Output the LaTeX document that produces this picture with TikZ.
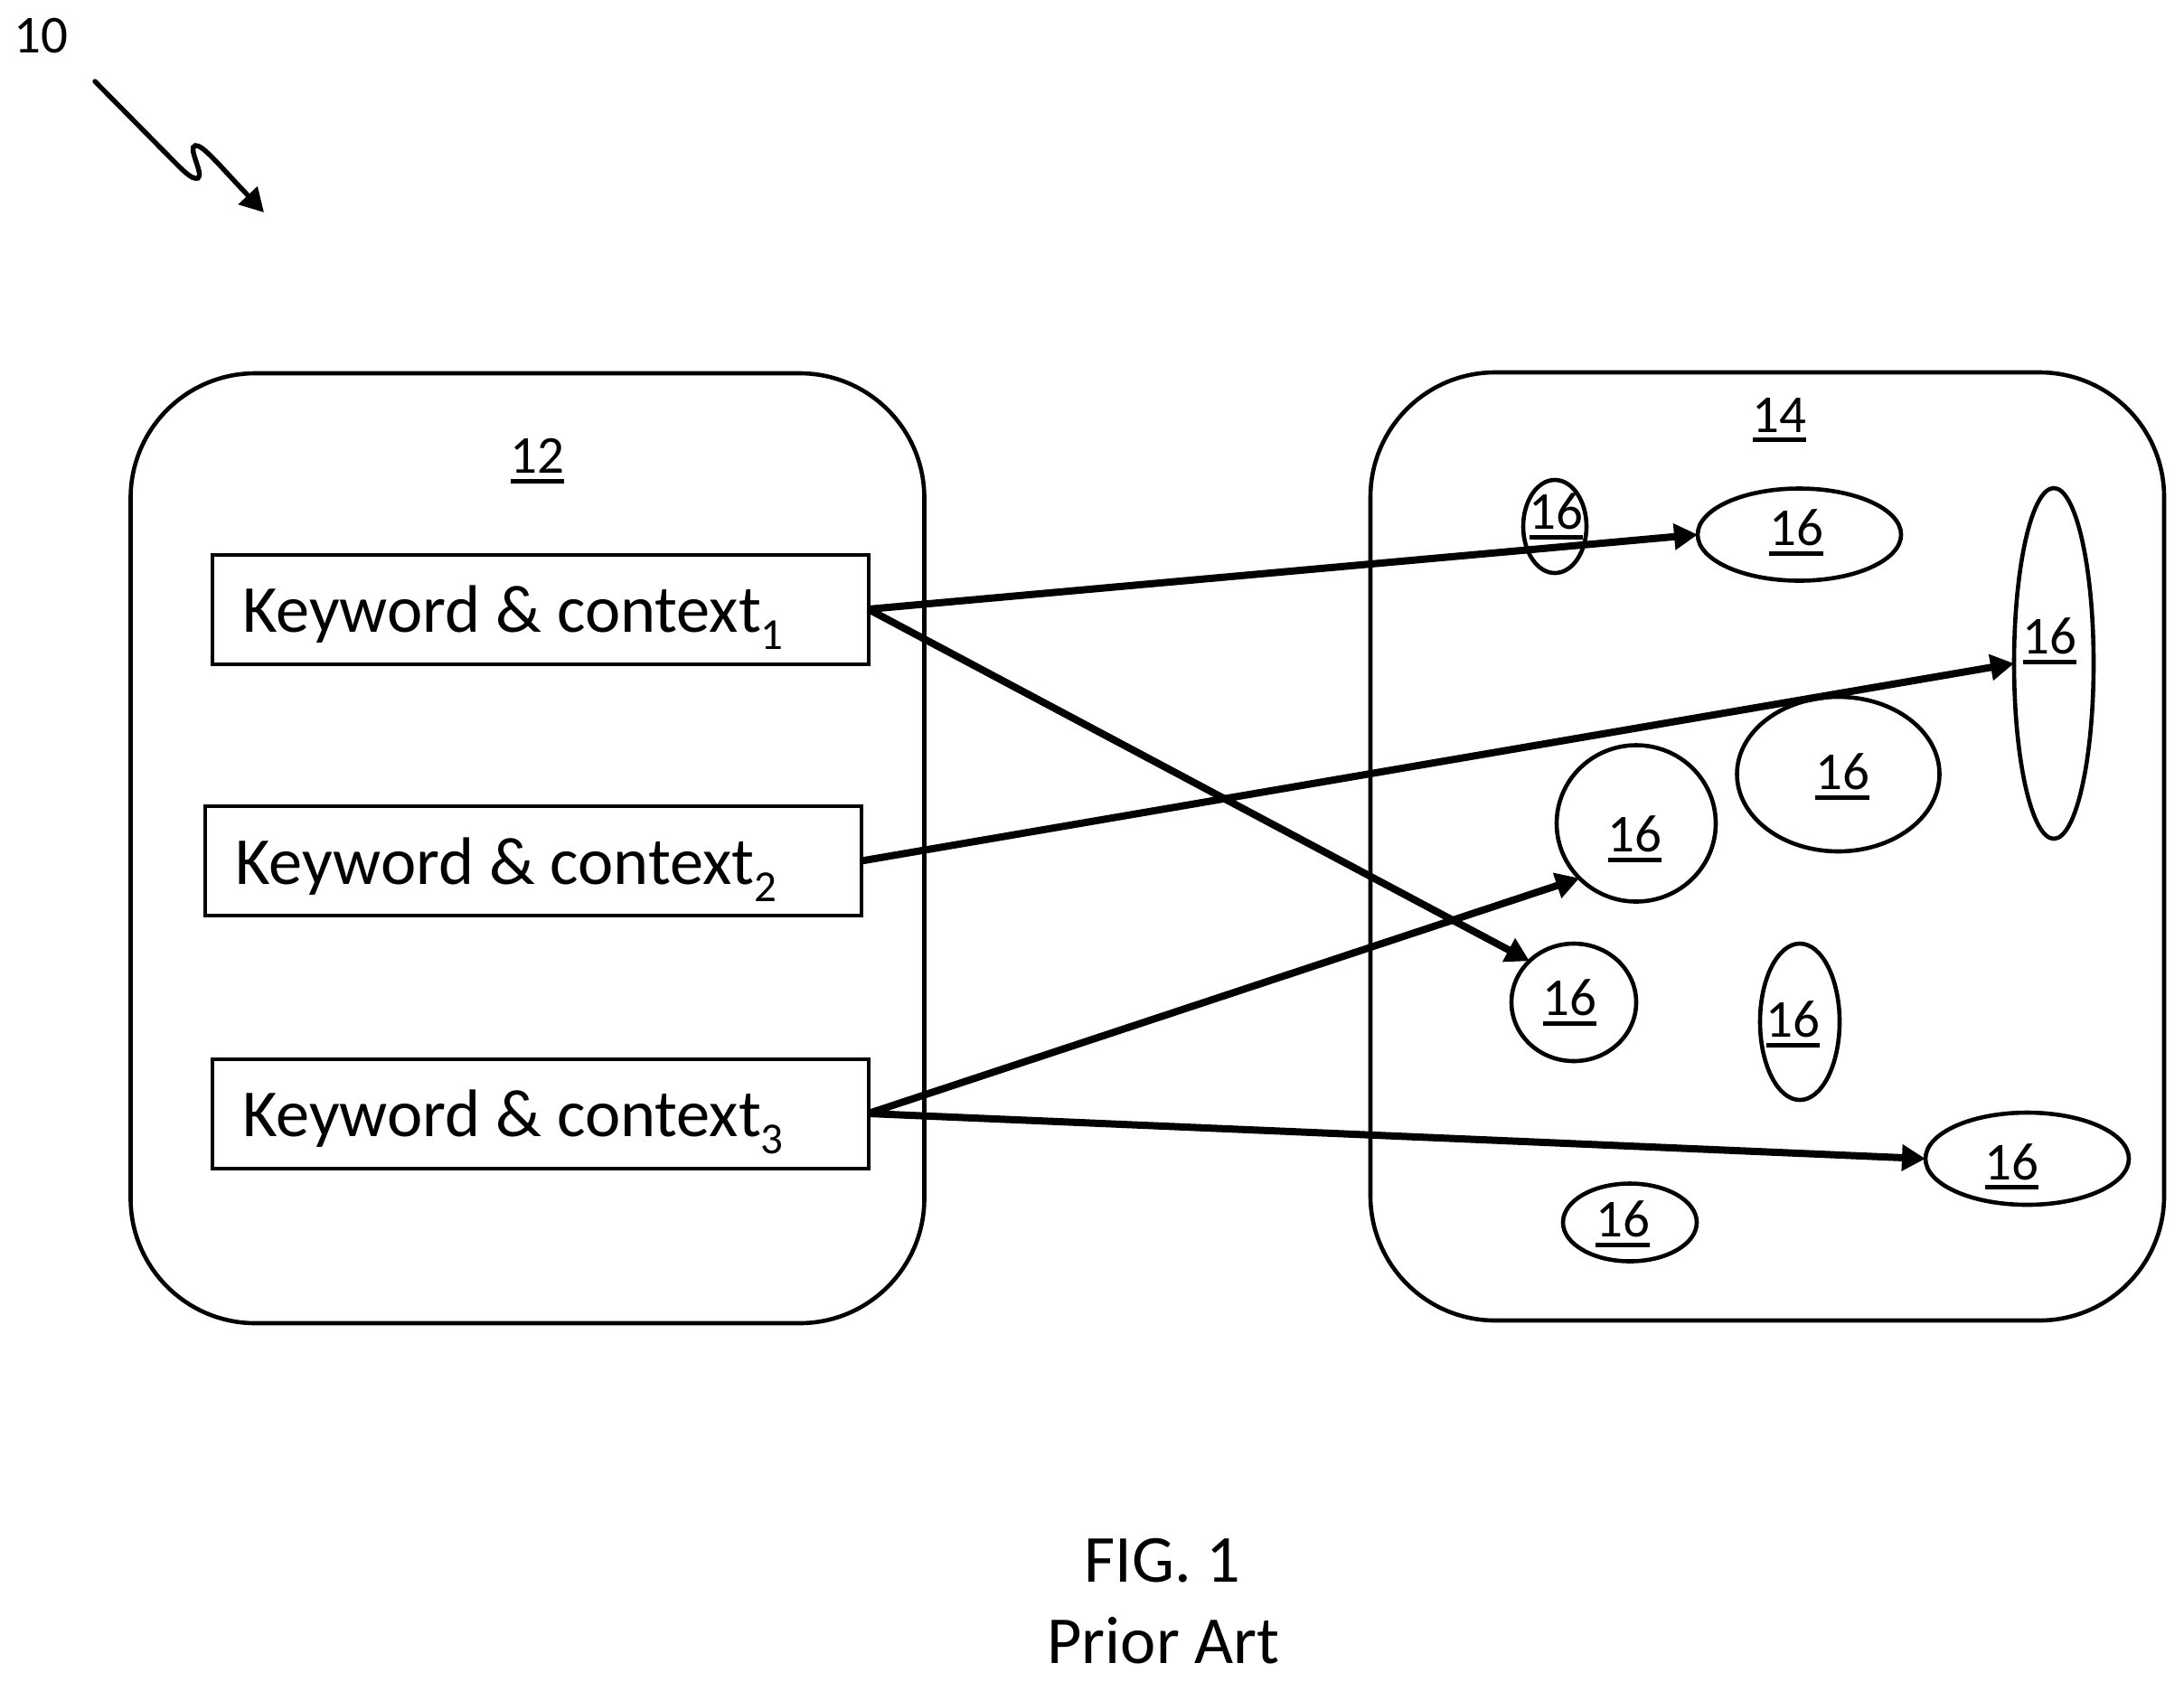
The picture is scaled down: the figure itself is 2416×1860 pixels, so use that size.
\documentclass[tikz,border=0pt]{standalone}
\usepackage{fontspec}
\setmainfont{Carlito}
\usetikzlibrary{shapes.geometric,arrows.meta}
\newcommand\ulnum[1]{\setbox0=\hbox{#1}\rlap{\rule[-5.5pt]{\wd0}{2.3pt}}\box0}
\newcommand\kwtext[1]{\makebox[363pt][l]{\hspace*{16.8pt}Keyword \& context\raisebox{-9.5pt}{\fontsize{24.5}{28}\selectfont #1}}}
\tikzset{
  outerbox/.style={draw,line width=2.3pt,rounded corners=69pt,inner sep=0pt,outer sep=0pt,minimum width=439pt},
  kwbox/.style={draw,line width=2pt,rectangle,inner sep=0pt,outer sep=0pt,text height=43pt,text depth=17.5pt,font=\fontsize{37.2}{44}\selectfont},
  blob/.style={draw,line width=2.3pt,ellipse,inner sep=0pt,outer sep=0pt},
  numlabel/.style={anchor=base,inner sep=0pt,font=\fontsize{29.5}{35}\selectfont},
  link/.style={line width=4pt,-{Triangle[length=13pt,width=14pt]}},
  capt/.style={anchor=base,inner sep=0pt,font=\fontsize{37.2}{44}\selectfont}
}
\begin{document}
\begin{tikzpicture}[x=0.5pt,y=-0.5pt]
\useasboundingbox (0,0) rectangle (2416,1860);
% outer boxes
\node[outerbox,minimum height=525.5pt] (b12) at (583.5,938.5) {};
\node[outerbox,minimum height=524.5pt] (b14) at (1955,936.5) {};
\node[numlabel] (l12) at (594.5,523.5) {\ulnum{12}};
\node[numlabel] (l14) at (1968.5,478) {\ulnum{14}};
% keyword boxes
\node[kwbox] (k1) at (597.5,674) {\kwtext{1}};
\node[kwbox] (k2) at (590,952.5) {\kwtext{2}};
\node[kwbox] (k3) at (597.5,1232) {\kwtext{3}};
% ellipses
\node[blob,minimum width=35pt,minimum height=51.5pt] (e1) at (1720,582.5) {};
\node[blob,minimum width=112.5pt,minimum height=51pt] (e2) at (1990.5,591.5) {};
\node[blob,minimum width=44pt,minimum height=194pt] (e3) at (2272,734) {};
\node[blob,minimum width=112pt,minimum height=85.5pt] (e4) at (2033.5,856.5) {};
\node[blob,minimum width=88pt,minimum height=86.5pt] (e5) at (1810,911) {};
\node[blob,minimum width=69pt,minimum height=65pt] (e6) at (1741,1109) {};
\node[blob,minimum width=44pt,minimum height=86.5pt] (e7) at (1991,1130.5) {};
\node[blob,minimum width=112.5pt,minimum height=51pt] (e8) at (2242.5,1282) {};
\node[blob,minimum width=74pt,minimum height=43pt] (e9) at (1803,1352.5) {};
% ellipse labels
\node[numlabel] (t1) at (1721.5,585.5) {\ulnum{16}};
\node[numlabel] (t2) at (1987,603.5) {\ulnum{16}};
\node[numlabel] (t3) at (2267.5,723.5) {\ulnum{16}};
\node[numlabel] (t4) at (2038,873.5) {\ulnum{16}};
\node[numlabel] (t5) at (1808.5,942.5) {\ulnum{16}};
\node[numlabel] (t6) at (1736.5,1123.5) {\ulnum{16}};
\node[numlabel] (t7) at (1983.5,1147.5) {\ulnum{16}};
\node[numlabel] (t8) at (2225.5,1305) {\ulnum{16}};
\node[numlabel] (t9) at (1795,1368.5) {\ulnum{16}};
% connectors
\draw[link] (k1.east) -- (e2.west);
\draw[link] (k1.east) -- (e6.137);
\draw[link] (k2.east) -- (e3.west);
\draw[link] (k3.east) -- (e5.224);
\draw[link] (k3.east) -- (e8.west);
% reference numeral and squiggle
\node[numlabel] (l10) at (45,58) {10};
\coordinate (s0) at (105,90);
\coordinate (s1) at (180,166);
\coordinate (s2) at (219,197);
\coordinate (s3) at (216,161);
\coordinate (s4) at (292,235);
\draw[line width=2.7pt,line cap=round,-{Triangle[length=13pt,width=14pt]}] (s0) -- (s1) .. controls (200,186) and (212,200) .. (s2) .. controls (226,193) and (207,163) .. (s3) .. controls (224,160) and (240,180) .. (s4);
% caption
\node[capt] (c1) at (1286,1750.5) {FIG. 1};
\node[capt] (c2) at (1287,1840) {Prior Art};
\end{tikzpicture}
\end{document}
